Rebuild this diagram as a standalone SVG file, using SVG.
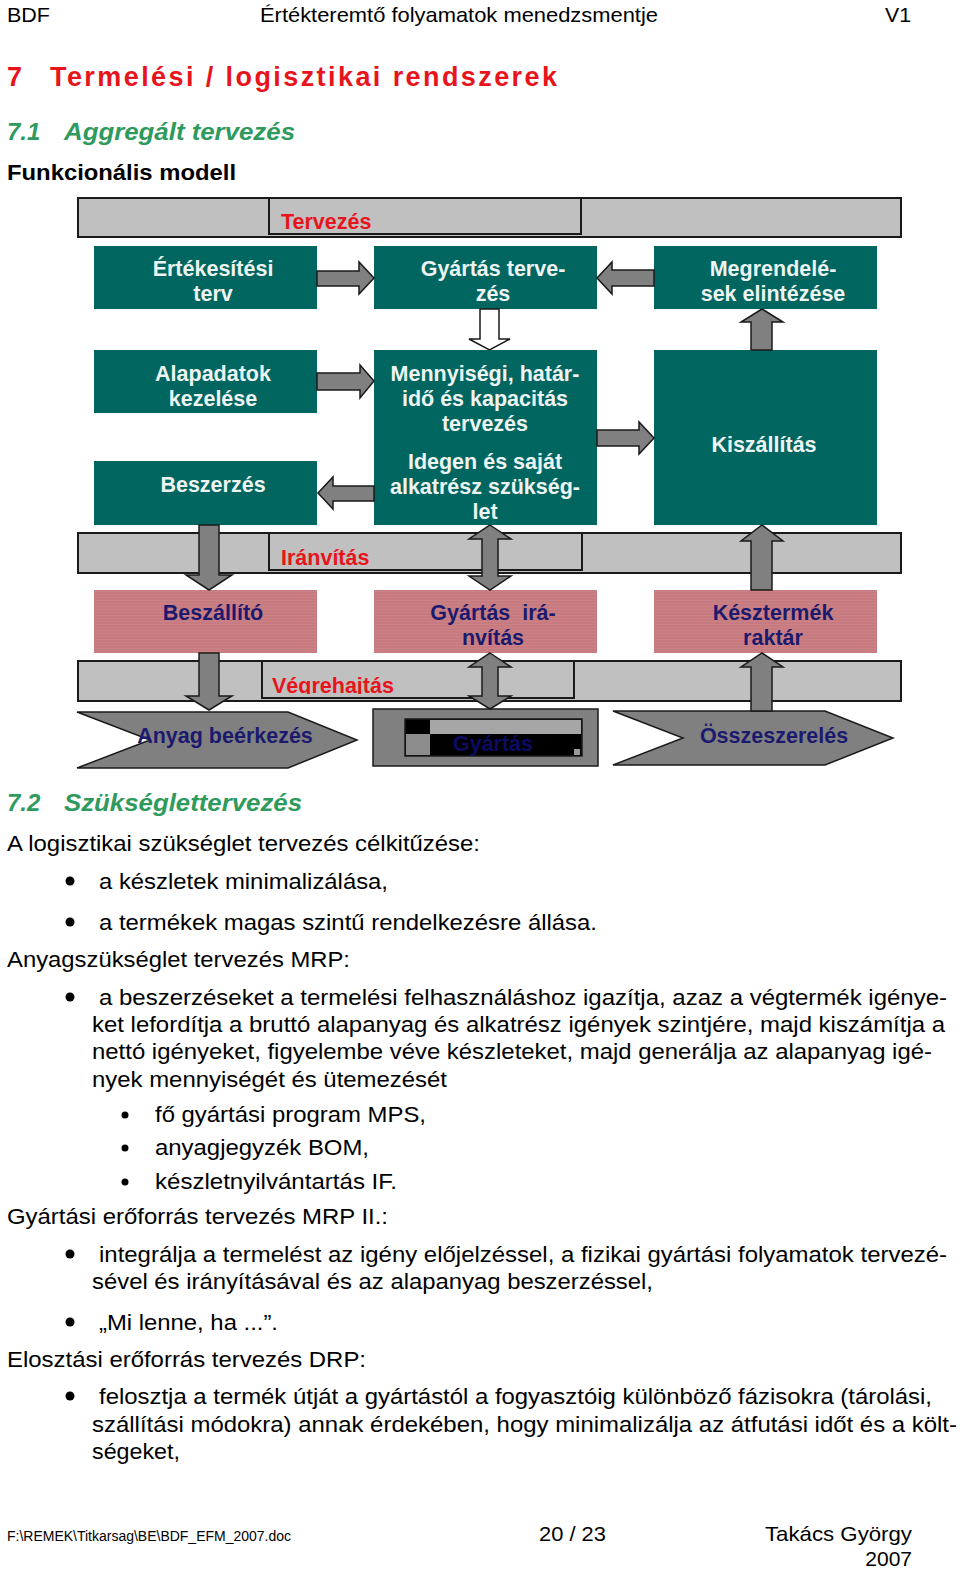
<svg xmlns="http://www.w3.org/2000/svg" width="960" height="1570" viewBox="0 0 960 1570">
<defs>
<style>
text{font-family:"Liberation Sans",Arial,sans-serif}
.hdr{font-size:21px;fill:#000}
.h1{font-size:27px;font-weight:bold;fill:#e8141c}
.h2{font-size:24px;font-weight:bold;font-style:italic;fill:#2f9a5e}
.h3{font-size:22px;font-weight:bold;fill:#000}
.body{font-size:22px;fill:#000}
.bar{fill:#c0c0c0;stroke:#1a1a1a;stroke-width:2}
.lbl{font-size:21.5px;font-weight:bold;fill:#e8141c}
.teal{fill:#00665f}
.tt{font-size:21.5px;font-weight:bold;fill:#eef4f3;text-anchor:middle}
.pt{font-size:21.5px;font-weight:bold;fill:#1c1a6e;text-anchor:middle}
.arr{fill:#808080;stroke:#1a1a1a;stroke-width:1.5;stroke-linejoin:miter}
.harr{fill:#ffffff;stroke:#1a1a1a;stroke-width:1.5}
.chev{fill:#808080;stroke:#1a1a1a;stroke-width:1.5}
.ft{font-size:14px;fill:#000}
.fb{font-size:21px;fill:#000}
</style>
<pattern id="stripe" width="4" height="3" patternUnits="userSpaceOnUse">
<rect width="4" height="3" fill="#c77a7f"/>
<rect width="4" height="1" fill="#cb8287"/>
</pattern>
<clipPath id="vclip"><rect x="262" y="661" width="312" height="33"/></clipPath>
<clipPath id="gclip"><rect x="405" y="719" width="177" height="37"/></clipPath>
</defs>
<rect width="960" height="1570" fill="#fff"/>

<g id="header">
<text class="hdr" x="7" y="22" textLength="43" lengthAdjust="spacingAndGlyphs">BDF</text>
<text class="hdr" x="260" y="22" textLength="398" lengthAdjust="spacingAndGlyphs">Értékteremtő folyamatok menedzsmentje</text>
<text class="hdr" x="885" y="22" textLength="26" lengthAdjust="spacingAndGlyphs">V1</text>
</g>

<g id="titles">
<text class="h1" x="7" y="86">7</text>
<text class="h1" x="50" y="86" textLength="507" lengthAdjust="spacing">Termelési / logisztikai rendszerek</text>
<text class="h2" x="7" y="140">7.1</text>
<text class="h2" x="64" y="140" textLength="231" lengthAdjust="spacingAndGlyphs">Aggregált tervezés</text>
<text class="h3" x="7" y="180" textLength="229" lengthAdjust="spacingAndGlyphs">Funkcionális modell</text>
</g>

<g id="bars">
<g id="bar-tervezes">
<rect class="bar" x="78" y="198" width="823" height="39"/>
<rect class="bar" x="269" y="198" width="312" height="36"/>
<text class="lbl" x="281" y="229">Tervezés</text>
</g>
<g id="bar-iranyitas">
<rect class="bar" x="78" y="533" width="823" height="40"/>
<rect class="bar" x="269" y="533" width="313" height="37"/>
<text class="lbl" x="281" y="565">Iránvítás</text>
</g>
<g id="bar-vegrehajtas">
<rect class="bar" x="78" y="661" width="823" height="40"/>
<rect class="bar" x="262" y="661" width="312" height="37"/>
<text class="lbl" x="272" y="693" clip-path="url(#vclip)">Végrehajtás</text>
</g>
</g>

<g id="n-ertekesitesi">
<rect class="teal" x="94" y="246" width="223" height="63"/>
<text class="tt" x="213" y="276">Értékesítési</text>
<text class="tt" x="213" y="301">terv</text>
</g>
<g id="n-gyartas-tervezes">
<rect class="teal" x="374" y="246" width="223" height="63"/>
<text class="tt" x="493" y="276">Gyártás terve-</text>
<text class="tt" x="493" y="301">zés</text>
</g>
<g id="n-megrendelesek">
<rect class="teal" x="654" y="246" width="223" height="63"/>
<text class="tt" x="773" y="276">Megrendelé-</text>
<text class="tt" x="773" y="301">sek elintézése</text>
</g>
<g id="n-alapadatok">
<rect class="teal" x="94" y="350" width="223" height="63"/>
<text class="tt" x="213" y="381">Alapadatok</text>
<text class="tt" x="213" y="406">kezelése</text>
</g>
<g id="n-mennyisegi">
<rect class="teal" x="374" y="350" width="223" height="175"/>
<text class="tt" x="485" y="381">Mennyiségi, határ-</text>
<text class="tt" x="485" y="406">idő és kapacitás</text>
<text class="tt" x="485" y="431">tervezés</text>
<text class="tt" x="485" y="469">Idegen és saját</text>
<text class="tt" x="485" y="494">alkatrész szükség-</text>
<text class="tt" x="485" y="519">let</text>
</g>
<g id="n-kiszallitas">
<rect class="teal" x="654" y="350" width="223" height="175"/>
<text class="tt" x="764" y="452">Kiszállítás</text>
</g>
<g id="n-beszerzes">
<rect class="teal" x="94" y="461" width="223" height="64"/>
<text class="tt" x="213" y="492">Beszerzés</text>
</g>

<g id="n-beszallito">
<rect fill="url(#stripe)" x="94" y="590" width="223" height="63"/>
<text class="pt" x="213" y="620">Beszállító</text>
</g>
<g id="n-gyartas-iranyitas">
<rect fill="url(#stripe)" x="374" y="590" width="223" height="63"/>
<text class="pt" x="493" y="620" xml:space="preserve">Gyártás  irá-</text>
<text class="pt" x="493" y="645">nvítás</text>
</g>
<g id="n-keszermek">
<rect fill="url(#stripe)" x="654" y="590" width="223" height="63"/>
<text class="pt" x="773" y="620">Késztermék</text>
<text class="pt" x="773" y="645">raktár</text>
</g>

<g id="n-anyag">
<polygon class="chev" points="77,712 288,712 357,740 288,768 77,768 150,740"/>
<text class="pt" x="225" y="743">Anyag beérkezés</text>
</g>
<g id="n-gyartas">
<rect x="373" y="709" width="225" height="57" fill="#808080" stroke="#1a1a1a" stroke-width="1.5"/>
<rect x="405" y="719" width="177" height="37" fill="#000" stroke="#1a1a1a" stroke-width="1.5"/>
<rect x="430" y="720" width="151" height="14" fill="#a6a6a6"/>
<rect x="406" y="734" width="24" height="21" fill="#8c8c8c"/>
<rect x="574" y="749" width="6" height="6" fill="#9a9a9a"/>
<text class="pt" x="493" y="751" style="fill:#0c0c60" clip-path="url(#gclip)">Gyártás</text>
</g>
<g id="n-osszeszereles">
<polygon class="chev" points="613,711 825,711 893,738 825,765 613,765 683,738"/>
<text class="pt" x="774" y="743">Összeszerelés</text>
</g>

<g id="connectors">
<polygon class="arr" points="317,271 359,271 359,262 374,278 359,294 359,286 317,286"/>
<polygon class="arr" points="654,270 612,270 612,262 597,278 612,294 612,286 654,286"/>
<polygon class="harr" points="480,309 499,309 499,339 510,339 489.5,350 469,339 480,339"/>
<polygon class="arr" points="751,350 751,322 741,322 762,309 783,322 772,322 772,350"/>
<polygon class="arr" points="317,373 360,373 360,365 374,381 360,398 360,390 317,390"/>
<polygon class="arr" points="374,486 333,486 333,477 318,493 333,509 333,501 374,501"/>
<polygon class="arr" points="597,430 639,430 639,422 654,438 639,454 639,446 597,446"/>
<polygon class="arr" points="199,525 219,525 219,575 232,575 209,590 186,575 199,575"/>
<polygon class="arr" points="490,525 511,539 498,539 498,576 511,576 490,590 469,576 482,576 482,539 469,539"/>
<polygon class="arr" points="751,590 751,541 741,541 762,525 783,541 772,541 772,590"/>
<polygon class="arr" points="199,653 219,653 219,696 232,696 209,710 186,696 199,696"/>
<polygon class="arr" points="490,653 511,667 498,667 498,696 511,696 490,709 469,696 482,696 482,667 469,667"/>
<polygon class="arr" points="751,711 751,667 741,667 762,653 783,667 772,667 772,711"/>
</g>

<g id="section72">
<text class="h2" x="7" y="811">7.2</text>
<text class="h2" x="64" y="811" textLength="238" lengthAdjust="spacingAndGlyphs">Szükséglettervezés</text>
<text class="body" x="7" y="851" textLength="473" lengthAdjust="spacingAndGlyphs">A logisztikai szükséglet tervezés célkitűzése:</text>
<circle cx="70" cy="881" r="4.5"/>
<text class="body" x="99" y="889" textLength="289" lengthAdjust="spacingAndGlyphs">a készletek minimalizálása,</text>
<circle cx="70" cy="922" r="4.5"/>
<text class="body" x="99" y="930" textLength="498" lengthAdjust="spacingAndGlyphs">a termékek magas szintű rendelkezésre állása.</text>
<text class="body" x="7" y="967" textLength="343" lengthAdjust="spacingAndGlyphs">Anyagszükséglet tervezés MRP:</text>
<circle cx="70" cy="997" r="4.5"/>
<text class="body" x="99" y="1005" textLength="848" lengthAdjust="spacingAndGlyphs">a beszerzéseket a termelési felhasználáshoz igazítja, azaz a végtermék igénye-</text>
<text class="body" x="92" y="1032" textLength="853" lengthAdjust="spacingAndGlyphs">ket lefordítja a bruttó alapanyag és alkatrész igények szintjére, majd kiszámítja a</text>
<text class="body" x="92" y="1059" textLength="840" lengthAdjust="spacingAndGlyphs">nettó igényeket, figyelembe véve készleteket, majd generálja az alapanyag igé-</text>
<text class="body" x="92" y="1087" textLength="355" lengthAdjust="spacingAndGlyphs">nyek mennyiségét és ütemezését</text>
<circle cx="125" cy="1115" r="3.5"/>
<text class="body" x="155" y="1122" textLength="271" lengthAdjust="spacingAndGlyphs">fő gyártási program MPS,</text>
<circle cx="125" cy="1148" r="3.5"/>
<text class="body" x="155" y="1155" textLength="214" lengthAdjust="spacingAndGlyphs">anyagjegyzék BOM,</text>
<circle cx="125" cy="1182" r="3.5"/>
<text class="body" x="155" y="1189" textLength="242" lengthAdjust="spacingAndGlyphs">készletnyilvántartás IF.</text>
<text class="body" x="7" y="1224" textLength="381" lengthAdjust="spacingAndGlyphs">Gyártási erőforrás tervezés MRP II.:</text>
<circle cx="70" cy="1254" r="4.5"/>
<text class="body" x="99" y="1262" textLength="848" lengthAdjust="spacingAndGlyphs">integrálja a termelést az igény előjelzéssel, a fizikai gyártási folyamatok tervezé-</text>
<text class="body" x="92" y="1289" textLength="561" lengthAdjust="spacingAndGlyphs">sével és irányításával és az alapanyag beszerzéssel,</text>
<circle cx="70" cy="1322" r="4.5"/>
<text class="body" x="99" y="1330" textLength="179" lengthAdjust="spacingAndGlyphs">„Mi lenne, ha ...”.</text>
<text class="body" x="7" y="1367" textLength="359" lengthAdjust="spacingAndGlyphs">Elosztási erőforrás tervezés DRP:</text>
<circle cx="70" cy="1396" r="4.5"/>
<text class="body" x="99" y="1404" textLength="833" lengthAdjust="spacingAndGlyphs">felosztja a termék útját a gyártástól a fogyasztóig különböző fázisokra (tárolási,</text>
<text class="body" x="92" y="1432" textLength="865" lengthAdjust="spacingAndGlyphs">szállítási módokra) annak érdekében, hogy minimalizálja az átfutási időt és a költ-</text>
<text class="body" x="92" y="1459" textLength="88" lengthAdjust="spacingAndGlyphs">ségeket,</text>
</g>

<g id="footer">
<text class="ft" x="7" y="1541" textLength="284" lengthAdjust="spacingAndGlyphs">F:\REMEK\Titkarsag\BE\BDF_EFM_2007.doc</text>
<text class="fb" x="539" y="1541" textLength="67" lengthAdjust="spacingAndGlyphs">20 / 23</text>
<text class="fb" x="765" y="1541" textLength="147" lengthAdjust="spacingAndGlyphs">Takács György</text>
<text class="fb" x="912" y="1566" text-anchor="end">2007</text>
</g>
</svg>
